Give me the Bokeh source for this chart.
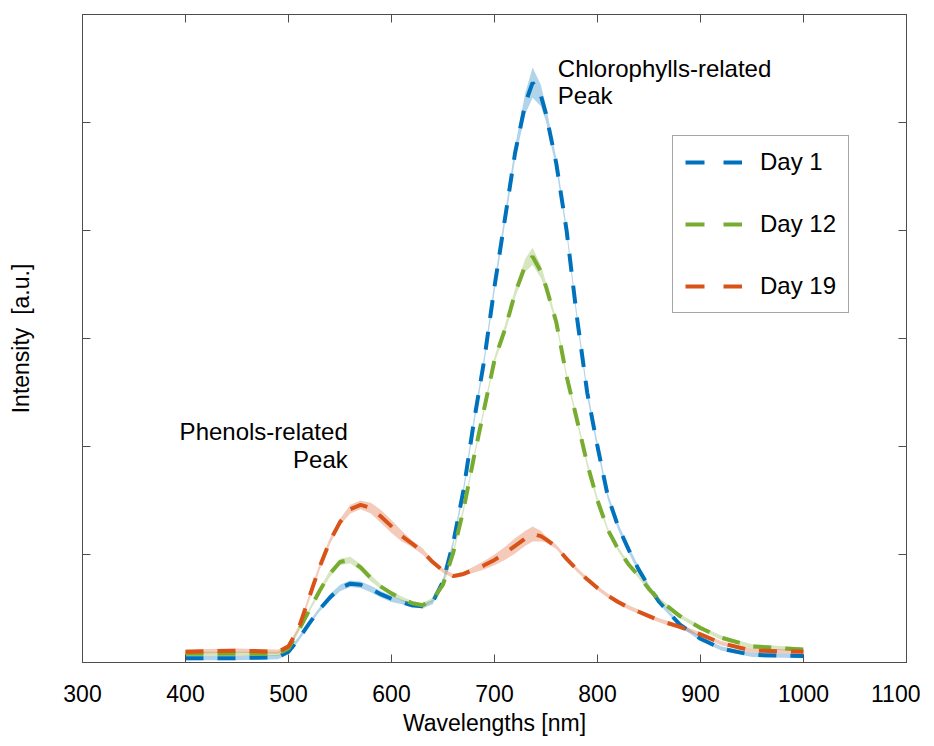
from bokeh.plotting import figure
from bokeh.models import (ColumnDataSource, LinearAxis, FixedTicker,
                          CustomJSTickFormatter, Legend, LegendItem)
from bokeh.core.properties import value
from bokeh.embed import file_html
from bokeh.resources import INLINE

# ---------------- data ----------------
wavelength = [400, 450, 490, 500, 510, 520, 530, 540, 550, 560, 570, 580, 590, 600,
              610, 620, 630, 640, 650, 660, 670, 680, 690, 700, 710, 720, 730, 737,
              745, 750, 760, 770, 780, 790, 800, 810, 820, 830, 840, 850, 860, 880,
              900, 920, 950, 1000]

day1 = [0.04, 0.04, 0.05, 0.10, 0.22, 0.36, 0.49, 0.60, 0.69, 0.73, 0.72, 0.68, 0.63, 0.59,
        0.56, 0.53, 0.52, 0.56, 0.75, 1.11, 1.60, 2.23, 2.80, 3.48, 4.10, 4.72, 5.18, 5.37,
        5.25, 5.08, 4.62, 4.00, 3.20, 2.50, 2.00, 1.54, 1.26, 1.05, 0.86, 0.70, 0.56, 0.35,
        0.22, 0.13, 0.07, 0.06]
day1_sd = [0.02, 0.02, 0.02, 0.02, 0.02, 0.02, 0.02, 0.03, 0.03, 0.03, 0.03, 0.03, 0.03, 0.03,
           0.02, 0.02, 0.02, 0.02, 0.03, 0.03, 0.04, 0.04, 0.04, 0.05, 0.05, 0.06, 0.10, 0.14,
           0.10, 0.07, 0.05, 0.04, 0.04, 0.04, 0.04, 0.03, 0.03, 0.03, 0.03, 0.02, 0.02, 0.02,
           0.02, 0.02, 0.02, 0.02]

day12 = [0.08, 0.08, 0.08, 0.13, 0.30, 0.48, 0.66, 0.82, 0.93, 0.95, 0.88, 0.78, 0.70, 0.64,
         0.59, 0.55, 0.53, 0.58, 0.72, 1.02, 1.42, 1.90, 2.35, 2.80, 3.08, 3.42, 3.68, 3.76,
         3.62, 3.48, 3.15, 2.65, 2.25, 1.84, 1.50, 1.23, 1.05, 0.91, 0.80, 0.68, 0.58, 0.43,
         0.32, 0.23, 0.15, 0.12]
day12_sd = [0.02, 0.02, 0.02, 0.02, 0.02, 0.02, 0.02, 0.03, 0.03, 0.03, 0.03, 0.03, 0.02, 0.02,
            0.02, 0.02, 0.02, 0.02, 0.02, 0.03, 0.03, 0.03, 0.03, 0.03, 0.04, 0.04, 0.06, 0.08,
            0.06, 0.04, 0.03, 0.03, 0.03, 0.03, 0.03, 0.02, 0.02, 0.02, 0.02, 0.02, 0.02, 0.02,
            0.02, 0.02, 0.02, 0.02]

day19 = [0.10, 0.11, 0.10, 0.15, 0.32, 0.60, 0.88, 1.12, 1.30, 1.42, 1.46, 1.43, 1.35, 1.26,
         1.17, 1.10, 1.03, 0.93, 0.85, 0.80, 0.82, 0.86, 0.90, 0.95, 1.01, 1.08, 1.15, 1.19,
         1.17, 1.14, 1.07, 0.96, 0.86, 0.77, 0.69, 0.62, 0.56, 0.51, 0.47, 0.43, 0.39, 0.33,
         0.26, 0.18, 0.11, 0.10]
day19_sd = [0.02, 0.02, 0.02, 0.02, 0.02, 0.03, 0.03, 0.03, 0.03, 0.04, 0.04, 0.05, 0.06, 0.06,
            0.05, 0.03, 0.03, 0.02, 0.02, 0.02, 0.02, 0.03, 0.04, 0.05, 0.06, 0.07, 0.07, 0.07,
            0.05, 0.03, 0.02, 0.02, 0.02, 0.02, 0.02, 0.02, 0.02, 0.02, 0.02, 0.02, 0.02, 0.02,
            0.02, 0.02, 0.02, 0.02]

series_labels = ["Day 1", "Day 12", "Day 19"]
series_colors = ["#0072BD", "#77AC30", "#D95319"]

x_ticks = [300, 400, 500, 600, 700, 800, 900, 1000, 1100]
y_ticks = [0, 1, 2, 3, 4, 5, 6]

annot_chl = ["Chlorophylls-related", "Peak"]
annot_chl_x = [761.5, 761.5]
annot_chl_y = [5.50, 5.25]
annot_phe = ["Phenols-related", "Peak"]
annot_phe_x = [557.5, 557.5]
annot_phe_y = [2.14, 1.88]

FONT = "Liberation Sans"
AX = "#4d4d4d"
NAN = float("nan")

# ---------------- figure ----------------
p = figure(width=920, height=738, x_range=(300, 1100), y_range=(0, 6),
           output_backend="svg", toolbar_location=None,
           min_border_left=82, min_border_right=14, min_border_top=14,
           min_border_bottom=75)
p.grid.visible = False
p.outline_line_color = AX
p.background_fill_color = "white"

legend_items = []
for lab, col, ys, sd in zip(series_labels, series_colors,
                            [day1, day12, day19], [day1_sd, day12_sd, day19_sd]):
    src = ColumnDataSource(dict(x=wavelength, y=ys,
                                lo=[a - b for a, b in zip(ys, sd)],
                                hi=[a + b for a, b in zip(ys, sd)]))
    p.varea(x="x", y1="lo", y2="hi", source=src, fill_color=col, fill_alpha=0.3)
    p.line(x="x", y="y", source=src, line_color=col, line_width=4,
           line_dash="18 14")
    # legend-only glyph (MATLAB-style long dashes in the legend box)
    dummy = p.line(x=[NAN, NAN], y=[NAN, NAN], line_color=col, line_width=4,
                   line_dash="19 19")
    legend_items.append(LegendItem(label=lab, renderers=[dummy]))

# annotations
p.text(x=annot_chl_x, y=annot_chl_y, text=annot_chl, text_font=value(FONT),
       text_font_size="24px", text_align="left", text_baseline="alphabetic",
       text_color="black")
p.text(x=annot_phe_x, y=annot_phe_y, text=annot_phe, text_font=value(FONT),
       text_font_size="24px", text_align="right", text_baseline="alphabetic",
       text_color="black")

# axes
blank = CustomJSTickFormatter(code="return ''")


def style_axis(ax):
    ax.axis_line_color = AX
    ax.major_tick_line_color = AX
    ax.major_tick_in = 8
    ax.major_tick_out = 0
    ax.minor_tick_line_color = None
    ax.major_label_text_font = FONT
    ax.major_label_text_font_size = "23px"
    ax.major_label_text_color = "black"
    ax.axis_label_text_font = FONT
    ax.axis_label_text_font_size = "23px"
    ax.axis_label_text_font_style = "normal"
    ax.axis_label_text_color = "black"


xa = p.xaxis[0]
xa.ticker = FixedTicker(ticks=x_ticks)
style_axis(xa)
xa.axis_label = "Wavelengths [nm]"
xa.major_label_standoff = 22
xa.axis_label_standoff = 5

ya = p.yaxis[0]
ya.ticker = FixedTicker(ticks=y_ticks)
ya.formatter = blank
style_axis(ya)
ya.axis_label = "Intensity\u00a0 [a.u.]"
ya.major_label_standoff = 0
ya.axis_label_standoff = 49

top = LinearAxis(ticker=FixedTicker(ticks=x_ticks), formatter=blank)
style_axis(top)
top.major_label_standoff = 0
top.major_label_text_font_size = "0px"
p.add_layout(top, "above")

right = LinearAxis(ticker=FixedTicker(ticks=y_ticks), formatter=blank)
style_axis(right)
right.major_label_standoff = 0
right.major_label_text_font_size = "0px"
p.add_layout(right, "right")

legend = Legend(items=legend_items, location=(590, 349),
                label_text_font=FONT, label_text_font_size="24px",
                label_text_color="black",
                label_height=24, glyph_height=24, glyph_width=57,
                label_standoff=18, spacing=34, padding=12,
                border_line_color=AX, border_line_width=1,
                background_fill_color="white", background_fill_alpha=1)
p.add_layout(legend)

open("out.html", "w").write(file_html(p, INLINE))
